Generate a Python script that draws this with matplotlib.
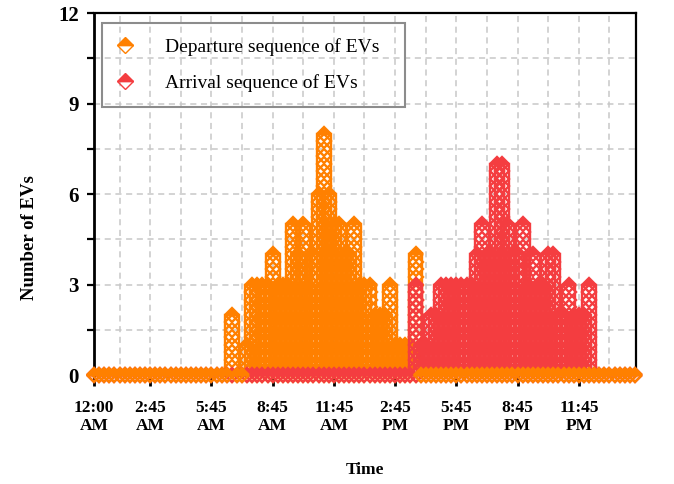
import numpy as np
import matplotlib.pyplot as plt
from matplotlib.lines import Line2D

plt.rcParams['font.family'] = ['Liberation Serif', 'DejaVu Serif']

# 15-minute slots, slot 1 = 12:00 AM
n_slots = 107
slots = np.arange(1, n_slots + 1)

departure_counts = ([0] * 27 +
                    [2, 0, 0, 1, 3, 3, 3, 3, 4, 3, 3, 3, 5, 4, 5, 3, 4, 6, 8, 6,
                     5, 5, 4, 4, 5, 3, 3, 3, 2, 2, 2, 3, 1, 1, 1, 1, 4] +
                    [0] * 43)
arrival_counts = ([0] * 63 +
                  [3, 1, 1, 2, 2, 3, 3, 3, 3, 3, 3, 3, 4, 5, 4, 4, 7, 7, 5, 4,
                   4, 5, 3, 4, 3, 3, 4, 4, 2, 2, 3, 2, 2, 2, 3] +
                  [0] * 9)

tick_pos = [1, 12, 24, 36, 48, 60, 72, 84, 96]
tick_labels = ['12:00\nAM', '2:45\nAM', '5:45\nAM', '8:45\nAM', '11:45\nAM',
               '2:45\nPM', '5:45\nPM', '8:45\nPM', '11:45\nPM']
minor_pos = [6, 18, 30, 42, 54, 66, 78, 90, 102]

c_dep = '#ff8000'
c_arr = '#f43d40'

fig = plt.figure(figsize=(6.74, 4.84), dpi=100)
ax = fig.add_axes([0.1395, 0.2252, 0.8041, 0.7479])
ax.set_xlim(1, 107.2)
ax.set_ylim(0, 12)

ms = 7.0
mew = 1.7
# marker width in data units so the column walls line up with the diamond tips
px_per_unit = ax.get_position().width * fig.get_figwidth() * fig.dpi / (107.2 - 1)
col_w = ms * np.sqrt(2) * fig.dpi / 72 / px_per_unit


def draw_columns(x, counts, color, zero_only=False):
    for xi, n in zip(x, counts):
        if zero_only != (n == 0):
            continue
        if n > 0:
            ax.bar(xi, n, width=col_w, fill=False, edgecolor=color,
                   linewidth=mew, zorder=3, clip_on=False)
            ys = np.linspace(0, n, int(round(n * 4)) + 1)[:-1]
            ax.plot(np.full_like(ys, xi, dtype=float), ys, ls='none', marker='D',
                    ms=ms, mew=mew, mec=color, mfc='none',
                    clip_on=False, zorder=3)
        # top marker: upper half filled
        ax.plot([xi], [n], ls='none', marker='D', ms=ms, mew=mew, mec=color,
                mfc=color, fillstyle='top', clip_on=False, zorder=3)


draw_columns(slots, departure_counts, c_dep)
draw_columns(slots, arrival_counts, c_arr)
draw_columns(slots, arrival_counts, c_arr, zero_only=True)
draw_columns(slots, departure_counts, c_dep, zero_only=True)

ax.set_yticks([0, 3, 6, 9, 12])
ax.set_yticks(np.arange(1.5, 12, 3), minor=True)
ax.set_xticks(tick_pos)
ax.set_xticklabels(tick_labels)
ax.set_xticks(minor_pos, minor=True)
ax.grid(True, which='both', color='#c8c8c8', ls=(0, (4, 3)), lw=1.1, zorder=0)
ax.set_axisbelow(True)

for lab in ax.get_xticklabels():
    lab.set_fontweight('bold')
    lab.set_fontsize(12.5)
for lab in ax.get_yticklabels():
    lab.set_fontweight('bold')
    lab.set_fontsize(15)
ax.tick_params(axis='y', which='both', direction='out', length=5, width=1.6, pad=6)
ax.tick_params(axis='x', which='major', direction='out', length=8, width=2, pad=10)
ax.tick_params(axis='x', which='minor', length=0)
for sp in ax.spines.values():
    sp.set_linewidth(1.6)
ax.spines['left'].set_linewidth(2)

ax.set_ylabel('Number of EVs', fontsize=13.5, fontweight='bold')
ax.yaxis.set_label_coords(-0.103, 0.38)
ax.set_xlabel('Time', fontsize=12.5, fontweight='bold', labelpad=20)

handles = [Line2D([], [], ls='none', marker='D', ms=8, color=c_dep, fillstyle='top'),
           Line2D([], [], ls='none', marker='D', ms=8, color=c_arr, fillstyle='top')]
leg = ax.legend(handles, ['Departure sequence of EVs', 'Arrival sequence of EVs'],
                loc='upper left', bbox_to_anchor=(0.0148, 0.74, 0.559, 0.232),
                mode='expand', borderaxespad=0,
                fancybox=False, framealpha=1, edgecolor='#8c8c8c',
                prop={'family': 'Liberation Serif', 'size': 14},
                handlelength=0.9, handletextpad=1.6, borderpad=0.75,
                labelspacing=0.95)
leg.get_frame().set_facecolor('none')
leg.get_frame().set_linewidth(1.5)

fig.savefig('out.png', dpi=100)
